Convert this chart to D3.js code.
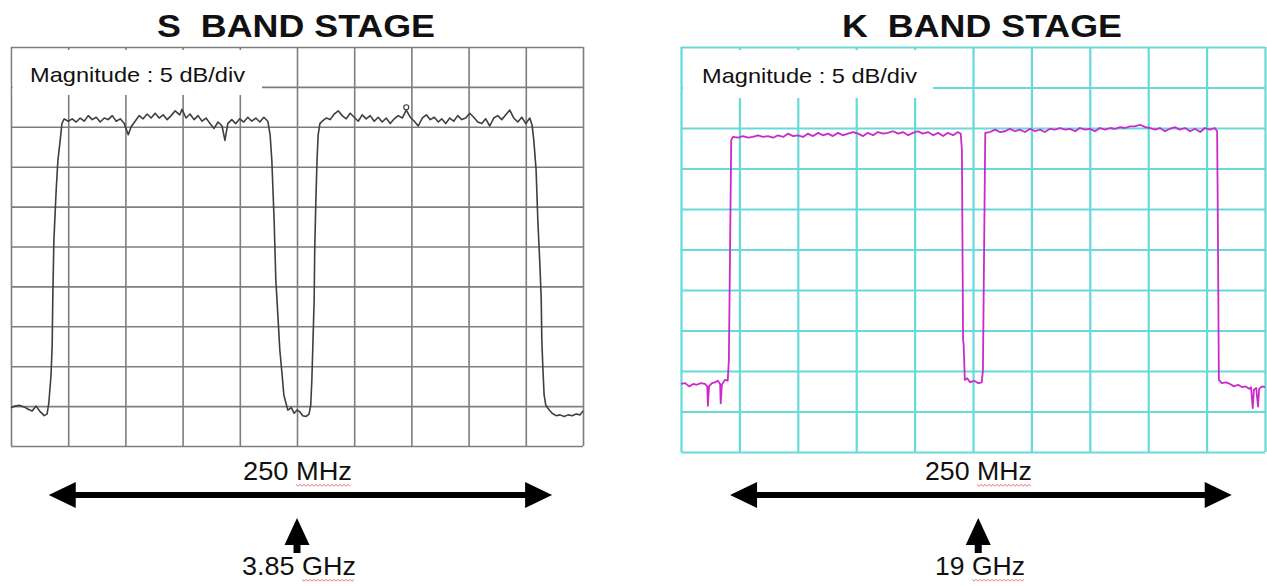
<!DOCTYPE html>
<html>
<head>
<meta charset="utf-8">
<script src="https://cdn.jsdelivr.net/npm/d3@7"></script>
<style>
  body { margin: 0; background: #fff; }
  text { font-family: "Liberation Sans", Arial, sans-serif; fill: #111; }
</style>
</head>
<body>
<div id="my_dataviz"></div>
<script>
// trace data: [position in divisions (0-10), level in dB below top line]
var sBandTrace = [
  [0.00,-45.2],[0.07,-45.0],[0.14,-44.9],[0.23,-45.1],[0.30,-45.4],[0.37,-45.6],[0.44,-45.0],[0.51,-45.7],[0.58,-46.2],[0.63,-46.0],
  [0.66,-44.7],[0.70,-41.1],[0.72,-37.3],[0.73,-31.7],[0.75,-24.2],[0.79,-17.9],[0.82,-14.2],[0.86,-11.7],[0.89,-9.6],
  [0.93,-9.0],[1.00,-9.3],[1.07,-9.0],[1.14,-9.4],[1.21,-8.9],[1.28,-9.3],[1.35,-8.6],[1.42,-9.1],[1.49,-8.8],[1.56,-9.4],
  [1.63,-8.9],[1.70,-9.1],[1.77,-8.6],[1.84,-9.3],[1.91,-9.0],[1.98,-9.6],[2.05,-11.0],[2.10,-10.0],[2.17,-9.3],[2.24,-8.6],
  [2.31,-9.0],[2.38,-8.4],[2.45,-8.9],[2.52,-8.3],[2.59,-8.9],[2.66,-8.5],[2.73,-9.1],[2.80,-8.6],[2.87,-8.0],[2.95,-8.5],
  [2.99,-7.8],[3.06,-8.9],[3.13,-8.4],[3.20,-9.1],[3.27,-8.6],[3.34,-9.3],[3.41,-8.9],[3.48,-9.6],[3.55,-10.2],[3.62,-9.4],
  [3.69,-9.9],[3.74,-11.7],[3.79,-9.6],[3.86,-9.1],[3.93,-9.6],[4.00,-9.0],[4.07,-9.4],[4.14,-8.8],[4.21,-9.3],[4.28,-8.9],
  [4.35,-9.4],[4.42,-8.8],[4.49,-9.3],
  [4.53,-11.0],[4.56,-14.2],[4.60,-21.7],[4.63,-29.2],[4.67,-34.2],[4.70,-38.0],[4.74,-41.1],[4.77,-43.6],[4.81,-44.7],
  [4.84,-45.5],[4.90,-45.2],[4.95,-45.9],[5.00,-45.5],[5.05,-45.7],[5.10,-46.2],[5.16,-46.3],[5.21,-46.0],
  [5.24,-44.9],[5.26,-41.7],[5.28,-36.7],[5.30,-31.7],[5.31,-25.4],[5.33,-19.2],[5.35,-14.2],[5.37,-11.0],[5.40,-9.6],
  [5.44,-9.3],[5.51,-8.9],[5.58,-9.1],[5.65,-8.4],[5.72,-8.0],[5.79,-8.6],[5.86,-9.0],[5.93,-8.3],[6.00,-8.8],[6.07,-9.3],
  [6.14,-8.5],[6.21,-9.0],[6.28,-8.6],[6.35,-9.3],[6.42,-8.8],[6.49,-9.4],[6.56,-8.9],[6.63,-9.6],[6.70,-9.0],[6.77,-8.6],
  [6.84,-8.9],[6.91,-7.9],[6.98,-8.8],[7.05,-9.3],[7.12,-9.9],[7.19,-8.9],[7.26,-8.5],[7.33,-9.1],[7.40,-8.8],[7.47,-9.4],
  [7.53,-9.0],[7.60,-9.6],[7.67,-8.9],[7.74,-9.3],[7.81,-8.6],[7.88,-9.1],[7.95,-8.9],[8.02,-8.3],[8.09,-8.8],[8.16,-9.4],
  [8.23,-9.6],[8.30,-9.0],[8.37,-9.9],[8.44,-8.9],[8.51,-8.6],[8.58,-9.1],[8.65,-8.5],[8.72,-7.9],[8.79,-8.9],[8.86,-9.4],
  [8.93,-8.8],[9.00,-9.6],[9.07,-8.9],
  [9.11,-9.8],[9.14,-11.7],[9.18,-15.4],[9.21,-21.7],[9.25,-27.9],[9.27,-31.7],[9.28,-36.7],[9.30,-40.5],[9.32,-43.6],[9.35,-44.9],
  [9.41,-45.5],[9.46,-45.9],[9.53,-46.2],[9.60,-46.1],[9.67,-46.3],[9.74,-46.1],[9.81,-46.2],[9.88,-46.0],[9.95,-46.1],[10.00,-45.6]
];
var sBandMarker = [6.91, -7.8];

var kBandTrace = [
  [0.00,-41.6],[0.07,-41.5],[0.14,-41.9],[0.21,-41.6],[0.27,-41.7],[0.34,-41.5],[0.41,-41.6],[0.45,-41.9],[0.46,-44.3],[0.48,-41.9],
  [0.53,-41.5],[0.58,-41.4],[0.63,-41.2],[0.67,-41.6],[0.68,-44.0],[0.70,-41.7],[0.75,-41.1],[0.80,-41.2],
  [0.82,-38.6],[0.84,-25.1],[0.86,-11.5],
  [0.89,-11.1],[0.98,-11.2],[1.06,-11.0],[1.15,-11.2],[1.23,-11.1],[1.32,-10.9],[1.40,-11.1],[1.49,-11.0],[1.58,-11.2],[1.66,-10.9],
  [1.75,-11.1],[1.83,-10.7],[1.92,-11.0],[2.00,-10.9],[2.09,-11.1],[2.17,-10.7],[2.26,-11.0],[2.35,-10.6],[2.43,-10.9],[2.52,-10.7],
  [2.60,-11.0],[2.69,-10.6],[2.77,-10.9],[2.86,-10.7],[2.95,-10.5],[3.03,-10.7],[3.12,-11.0],[3.20,-10.6],[3.29,-10.9],[3.37,-10.5],
  [3.46,-10.7],[3.54,-10.6],[3.63,-10.4],[3.72,-10.7],[3.80,-10.5],[3.89,-10.9],[3.97,-10.6],[4.06,-10.4],[4.14,-10.7],[4.23,-10.5],
  [4.32,-10.9],[4.40,-10.6],[4.49,-11.0],[4.57,-10.6],[4.66,-10.9],[4.74,-10.5],[4.79,-10.7],
  [4.81,-12.7],[4.83,-36.2],[4.84,-36.7],[4.86,-41.1],
  [4.90,-40.9],[4.95,-41.4],[5.02,-41.2],[5.09,-41.5],[5.15,-41.4],
  [5.17,-39.9],[5.19,-25.1],[5.21,-10.6],
  [5.29,-10.5],[5.38,-10.2],[5.46,-10.5],[5.55,-10.4],[5.63,-10.1],[5.72,-10.4],[5.80,-10.2],[5.89,-10.5],[5.98,-10.1],[6.06,-10.4],
  [6.15,-10.2],[6.23,-10.5],[6.32,-10.1],[6.40,-10.2],[6.49,-10.0],[6.58,-10.2],[6.66,-10.1],[6.75,-10.4],[6.83,-10.0],[6.92,-10.2],
  [7.00,-10.1],[7.09,-10.4],[7.17,-10.0],[7.26,-10.2],[7.35,-10.0],[7.43,-10.1],[7.52,-9.9],[7.60,-10.0],[7.69,-9.8],[7.77,-9.8],
  [7.86,-9.6],[7.95,-9.9],[8.03,-10.0],[8.12,-10.2],[8.20,-10.0],[8.29,-10.4],[8.37,-10.1],[8.46,-9.9],[8.54,-10.2],[8.63,-10.0],
  [8.72,-10.4],[8.80,-10.1],[8.89,-10.5],[8.97,-10.0],[9.06,-10.2],[9.14,-10.0],[9.18,-10.4],
  [9.19,-18.9],[9.21,-41.1],
  [9.26,-41.5],[9.33,-41.4],[9.40,-41.6],[9.47,-41.9],[9.54,-41.7],[9.61,-42.0],[9.67,-41.9],[9.73,-42.2],[9.76,-42.0],[9.79,-44.6],
  [9.81,-42.3],[9.85,-42.1],[9.88,-44.4],[9.90,-42.2],[9.95,-41.9],[10.00,-42.0]
];

// graticule: 10 x 10 divisions, 5 dB per division
var divTicks = d3.range(0, 11);
var levelTicks = d3.range(-50, 1, 5);

var titles = ["S  BAND STAGE", "K  BAND STAGE"];
var scaleLabel = "Magnitude : 5 dB/div";
var spanLabel = "250 MHz";
var centerLabels = ["3.85 GHz", "19 GHz"];
var spanArrows = [[0.66, 9.46], [0.84, 9.43]];   // ends of the 250 MHz arrow, in divisions
var centerArrows = [5.0, 5.09];                  // centre frequency marker, in divisions

var W = 1267, H = 586;
var svg = d3.select("#my_dataviz").append("svg")
    .attr("width", W)
    .attr("height", H);

var panels = [
  { left: 11, right: 583, top: 47, bottom: 446, grid: "#7e7e7e", gridW: 1.6,
    trace: "#3f3f3f", traceW: 1.6, data: sBandTrace, title: titles[0], titleX: 296, titleW: 278,
    boxRight: 262, boxBottom: 95, labelX: 30, labelY: 82,
    span: spanArrows[0], center: centerArrows[0], centerLabel: centerLabels[0],
    spanTextX: 243, spanTextW: 109, centerTextX: 242, centerTextW: 114 },
  { left: 681, right: 1265, top: 47, bottom: 452, grid: "#66d9d9", gridW: 2.2,
    trace: "#c92bc9", traceW: 1.8, data: kBandTrace, title: titles[1], titleX: 982, titleW: 280,
    boxRight: 933, boxBottom: 98, labelX: 702, labelY: 83,
    span: spanArrows[1], center: centerArrows[1], centerLabel: centerLabels[1],
    spanTextX: 925, spanTextW: 107, centerTextX: 935, centerTextW: 90 }
];

function squiggle(g, textSel, startChar, y) {
    // red spell-check underline beneath the unit word
    var node = textSel.node();
    var n = node.getNumberOfChars();
    var full = node.getSubStringLength(0, n);
    var x0 = +textSel.attr("x");
    var w = +textSel.attr("textLength");
    var a = x0 + w * node.getSubStringLength(0, startChar) / full;
    var b = x0 + w;
    var pts = [];
    for (var i = 0; a + i * 2 <= b; i++) pts.push([a + i * 2, y + (i % 2 ? 1.2 : -0.6)]);
    g.append("path")
        .attr("d", d3.line()(pts))
        .attr("fill", "none")
        .attr("stroke", "#e36b6b")
        .attr("stroke-width", 0.9);
}

panels.forEach(function (p) {
    var x = d3.scaleLinear().domain([0, 10]).range([p.left, p.right]);
    var y = d3.scaleLinear().domain([-50, 0]).range([p.bottom, p.top]);
    var g = svg.append("g");

    // vertical and horizontal graticule lines via axes
    g.append("g")
        .attr("transform", "translate(0," + p.bottom + ")")
        .call(d3.axisBottom(x).tickValues(divTicks).tickSize(-(p.bottom - p.top)).tickFormat(""))
        .call(function (a) { a.select(".domain").remove(); })
        .selectAll("line").attr("stroke", p.grid).attr("stroke-width", p.gridW);
    g.append("g")
        .attr("transform", "translate(" + p.left + ",0)")
        .call(d3.axisLeft(y).tickValues(levelTicks).tickSize(-(p.right - p.left)).tickFormat(""))
        .call(function (a) { a.select(".domain").remove(); })
        .selectAll("line").attr("stroke", p.grid).attr("stroke-width", p.gridW);

    // white box behind the scale label
    g.append("rect")
        .attr("x", p.left + p.gridW)
        .attr("y", p.top + 3)
        .attr("width", p.boxRight - p.left - p.gridW)
        .attr("height", p.boxBottom - p.top - 3)
        .attr("fill", "#fff");
    g.append("text")
        .attr("x", p.labelX)
        .attr("y", p.labelY)
        .attr("font-size", 21)
        .attr("textLength", 215)
        .attr("lengthAdjust", "spacingAndGlyphs")
        .text(scaleLabel);

    // trace
    g.append("path")
        .datum(p.data)
        .attr("fill", "none")
        .attr("stroke", p.trace)
        .attr("stroke-width", p.traceW)
        .attr("stroke-linejoin", "round")
        .attr("d", d3.line().x(function (d) { return x(d[0]); }).y(function (d) { return y(d[1]); }));

    // title
    svg.append("text")
        .attr("x", p.titleX - p.titleW / 2)
        .attr("y", 37)
        .attr("font-size", 31)
        .attr("font-weight", "bold")
        .attr("textLength", p.titleW)
        .attr("lengthAdjust", "spacingAndGlyphs")
        .style("white-space", "pre")
        .text(p.title);

    // 250 MHz span arrow
    var ya = 495, a0 = x(p.span[0]), a1 = x(p.span[1]);
    var arrow = d3.path();
    arrow.moveTo(a0, ya);
    arrow.lineTo(a0 + 27, ya - 13);
    arrow.lineTo(a0 + 27, ya - 3);
    arrow.lineTo(a1 - 27, ya - 3);
    arrow.lineTo(a1 - 27, ya - 13);
    arrow.lineTo(a1, ya);
    arrow.lineTo(a1 - 27, ya + 13);
    arrow.lineTo(a1 - 27, ya + 3);
    arrow.lineTo(a0 + 27, ya + 3);
    arrow.lineTo(a0 + 27, ya + 13);
    arrow.closePath();
    svg.append("path").attr("d", arrow.toString()).attr("fill", "#000");

    var spanText = svg.append("text")
        .attr("x", p.spanTextX)
        .attr("y", 480)
        .attr("font-size", 25)
        .attr("textLength", p.spanTextW)
        .attr("lengthAdjust", "spacingAndGlyphs")
        .text(spanLabel);
    squiggle(svg, spanText, 4, 485);

    // centre frequency arrow
    var cx = x(p.center);
    var up = d3.path();
    up.moveTo(cx, 518);
    up.lineTo(cx + 12.5, 545);
    up.lineTo(cx + 3.5, 545);
    up.lineTo(cx + 3.5, 553);
    up.lineTo(cx - 3.5, 553);
    up.lineTo(cx - 3.5, 545);
    up.lineTo(cx - 12.5, 545);
    up.closePath();
    svg.append("path").attr("d", up.toString()).attr("fill", "#000");

    var centerText = svg.append("text")
        .attr("x", p.centerTextX)
        .attr("y", 575)
        .attr("font-size", 25)
        .attr("textLength", p.centerTextW)
        .attr("lengthAdjust", "spacingAndGlyphs")
        .text(p.centerLabel);
    squiggle(svg, centerText, p.centerLabel.indexOf(" ") + 1, 580);
});

// small marker sitting on the S band trace
var sx = d3.scaleLinear().domain([0, 10]).range([panels[0].left, panels[0].right]);
var sy = d3.scaleLinear().domain([-50, 0]).range([panels[0].bottom, panels[0].top]);
svg.append("circle")
    .attr("cx", sx(sBandMarker[0]))
    .attr("cy", sy(sBandMarker[1]) - 2)
    .attr("r", 2.5)
    .attr("fill", "#fff")
    .attr("stroke", panels[0].trace)
    .attr("stroke-width", 1.2);
</script>
</body>
</html>
